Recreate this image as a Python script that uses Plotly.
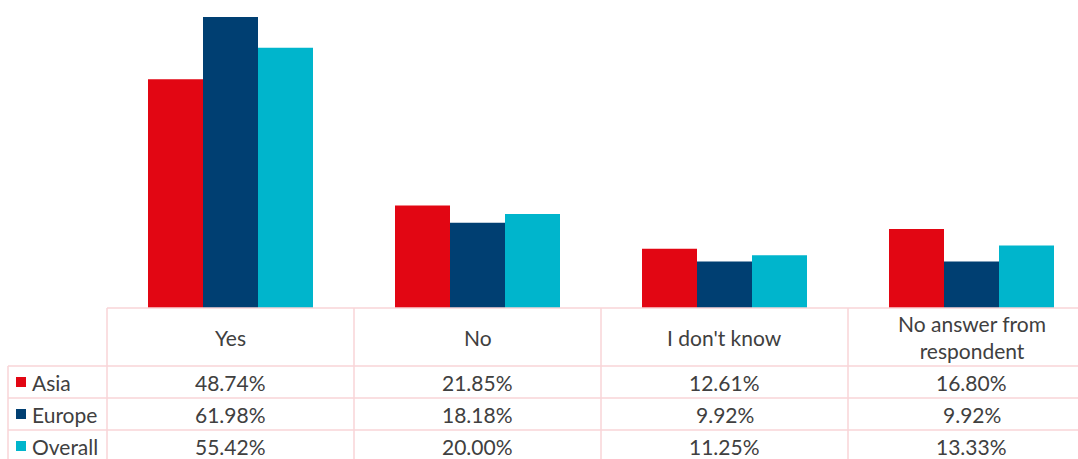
import plotly.graph_objects as go

categories = ["Yes", "No", "I don't know", "No answer from<br>respondent"]
series_names = ["Asia", "Europe", "Overall"]
asia = [48.74, 21.85, 12.61, 16.80]
europe = [61.98, 18.18, 9.92, 9.92]
overall = [55.42, 20.00, 11.25, 13.33]
colors = ["#E20613", "#003F72", "#00B5CC"]

W, H = 1078, 459
FONT = "Lato"
FS = 21
TXT = "#404040"
GRID = "#F9D4D7"

def px(x):
    return x / W

def py(y):
    return 1 - y / H

fig = go.Figure()
xs = list(range(len(categories)))
for name, vals, col in zip(series_names, [asia, europe, overall], colors):
    fig.add_trace(go.Bar(x=xs, y=vals, name=name, marker=dict(color=col, line=dict(width=0)),
                         showlegend=False, hoverinfo="skip"))

col_w = 247.0
x0 = 107.0
plot_bottom = 308.0
unit = 291.0 / 61.98

shapes = []
def line(xa, ya, xb, yb):
    shapes.append(dict(type="line", xref="paper", yref="paper", x0=px(xa), y0=py(ya), x1=px(xb), y1=py(yb),
                       line=dict(color=GRID, width=1.5)))

row_lines = [366, 398, 430]
line(x0, plot_bottom, W, plot_bottom)
for r in row_lines:
    line(8, r, W, r)
for i in range(4):
    xv = x0 + i * col_w
    line(xv, plot_bottom, xv, H)
line(8, 366, 8, H)

annotations = []
for i, c in enumerate(categories):
    annotations.append(dict(x=i, xref="x", y=py(337), yref="paper", text=c, showarrow=False,
                            xanchor="center", yanchor="middle",
                            font=dict(family=FONT, size=FS, color=TXT), align="center"))
row_centers = [382, 414, 446]
for rc, name, vals, col in zip(row_centers, series_names, [asia, europe, overall], colors):
    shapes.append(dict(type="rect", xref="paper", yref="paper", x0=px(16), x1=px(26), y0=py(rc - 5), y1=py(rc + 5),
                       fillcolor=col, line=dict(width=0)))
    annotations.append(dict(x=px(30), xref="paper", y=py(rc), yref="paper", text=name, showarrow=False,
                            xanchor="left", yanchor="middle",
                            font=dict(family=FONT, size=FS, color=TXT)))
    for i, v in enumerate(vals):
        annotations.append(dict(x=i, xref="x", y=py(rc), yref="paper", text=f"{v:.2f}%", showarrow=False,
                                xanchor="center", yanchor="middle",
                                font=dict(family=FONT, size=FS, color=TXT)))

fig.update_layout(
    width=W, height=H,
    margin=dict(l=0, r=0, t=0, b=0),
    paper_bgcolor="white", plot_bgcolor="white",
    barmode="group", bargap=0.332, bargroupgap=0,
    xaxis=dict(domain=[px(x0), 1], range=[-0.5, -0.5 + (W - x0) / col_w], showticklabels=False,
               showgrid=False, zeroline=False, showline=False, ticks=""),
    yaxis=dict(domain=[py(plot_bottom), 1], range=[0, plot_bottom / unit], showticklabels=False,
               showgrid=False, zeroline=False, showline=False, ticks=""),
    shapes=shapes, annotations=annotations,
)

fig.write_html("out.html", config={"displayModeBar": False},
               post_script="document.body.style.margin='0px';document.body.style.overflow='hidden';")
